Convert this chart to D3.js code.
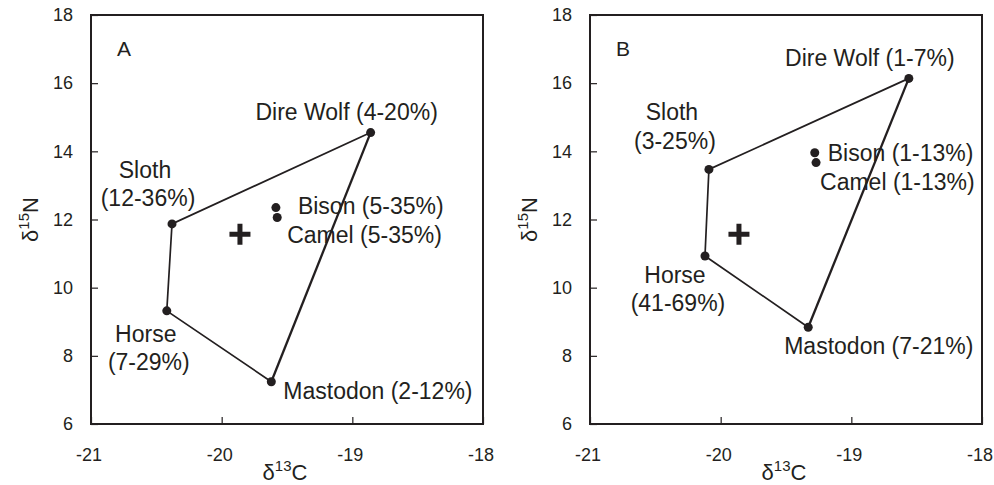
<!DOCTYPE html>
<html>
<head>
<meta charset="utf-8">
<script src="https://cdn.jsdelivr.net/npm/d3@7"></script>
<style>
  body { margin: 0; background: #fff; }
  text { font-family: "Liberation Sans", Arial, sans-serif; fill: #231f20; }
</style>
</head>
<body>
<div id="chart"></div>
<script>
// data
var species = ["Dire Wolf", "Sloth", "Horse", "Mastodon", "Bison", "Camel"];
var hullOrder = ["Dire Wolf", "Sloth", "Horse", "Mastodon"];

var rangesA = ["4-20%", "12-36%", "7-29%", "2-12%", "5-35%", "5-35%"];
var carbonA = [-18.86, -20.38, -20.42, -19.62, -19.585, -19.575];
var nitrogenA = [14.55, 11.87, 9.32, 7.24, 12.35, 12.06];

var rangesB = ["1-7%", "3-25%", "41-69%", "7-21%", "1-13%", "1-13%"];
var carbonB = [-18.56, -20.09, -20.12, -19.33, -19.28, -19.27];
var nitrogenB = [16.14, 13.47, 10.93, 8.84, 13.96, 13.67];

var mixtureA = [-19.86, 11.57];
var mixtureB = [-19.86, 11.57];

var xTicks = [-21, -20, -19, -18];
var yTicks = [6, 8, 10, 12, 14, 16, 18];

// label placement (pixel offsets from the point), per panel
var labelsA = {
  "Dire Wolf": {dx: -24, dy: -13, anchor: "middle", lines: 1},
  "Sloth":     {dx: -27, dy: -46, anchor: "middle", lines: 2},
  "Horse":     {dx: -21, dy: 31, anchor: "middle", lines: 2},
  "Mastodon":  {dx: 12, dy: 17, anchor: "start", lines: 1},
  "Bison":     {dx: 22, dy: 6, anchor: "start", lines: 1},
  "Camel":     {dx: 10, dy: 26, anchor: "start", lines: 1}
};
var labelsB = {
  "Dire Wolf": {dx: -39, dy: -12, anchor: "middle", lines: 1},
  "Sloth":     {dx: -37, dy: -49, anchor: "middle", lines: 2},
  "Horse":     {dx: -30, dy: 27, anchor: "middle", lines: 2},
  "Mastodon":  {dx: -24, dy: 27, anchor: "start", lines: 1},
  "Bison":     {dx: 13, dy: 8, anchor: "start", lines: 1},
  "Camel":     {dx: 4, dy: 27, anchor: "start", lines: 1}
};

var W = 994, H = 485;
var ink = "#231f20";

var svg = d3.select("#chart")
  .append("svg")
  .attr("width", W)
  .attr("height", H);

function plain(d) { return String(d); }

function drawPanel(left, letter, carbon, nitrogen, ranges, mixture, labels) {
  var top = 15, bottom = 424, right = left + 392;

  var x = d3.scaleLinear().domain([-21, -18]).range([left, right]);
  var y = d3.scaleLinear().domain([6, 18]).range([bottom, top]);

  var g = svg.append("g");

  var pts = species.map(function(s, i) {
    return {name: s, c: carbon[i], n: nitrogen[i], range: ranges[i]};
  });
  var byName = {};
  pts.forEach(function(p) { byName[p.name] = p; });

  // axes with inward ticks
  g.append("g")
    .attr("transform", "translate(0," + bottom + ")")
    .call(d3.axisBottom(x).tickValues(xTicks).tickSizeInner(-7).tickSizeOuter(0).tickPadding(24).tickFormat(plain))
    .call(function(a) {
      a.select(".domain").remove();
      a.selectAll("line").attr("stroke", ink).attr("stroke-width", 1.2);
      a.selectAll("text").attr("font-size", 18).attr("font-family", null).attr("dx", -2.5);
    });

  g.append("g")
    .attr("transform", "translate(" + left + ",0)")
    .call(d3.axisLeft(y).tickValues(yTicks).tickSizeInner(-7).tickSizeOuter(0).tickPadding(18).tickFormat(plain))
    .call(function(a) {
      a.select(".domain").remove();
      a.selectAll("line").attr("stroke", ink).attr("stroke-width", 1.2);
      a.selectAll("text").attr("font-size", 18).attr("font-family", null);
    });

  // frame
  g.append("rect")
    .attr("x", left).attr("y", top)
    .attr("width", right - left).attr("height", bottom - top)
    .attr("fill", "none")
    .attr("stroke", ink)
    .attr("stroke-width", 2);

  // mixing polygon
  var line = d3.line()
    .x(function(d) { return x(d.c); })
    .y(function(d) { return y(d.n); });

  var hull = hullOrder.map(function(s) { return byName[s]; });
  g.append("path")
    .datum(hull)
    .attr("d", line)
    .attr("fill", "none")
    .attr("stroke", ink)
    .attr("stroke-width", 1.7);
  g.append("path")
    .datum([hull[hull.length - 1], hull[0]])
    .attr("d", line)
    .attr("fill", "none")
    .attr("stroke", ink)
    .attr("stroke-width", 2.3);

  // source points
  g.selectAll("circle")
    .data(pts)
    .enter()
    .append("circle")
    .attr("cx", function(d) { return x(d.c); })
    .attr("cy", function(d) { return y(d.n); })
    .attr("r", 4.5)
    .attr("fill", ink);

  // consumer mean
  g.append("path")
    .attr("transform", "translate(" + x(mixture[0]) + "," + y(mixture[1]) + ")")
    .attr("d", "M-10.5,0H10.5M0,-10.5V10.5")
    .attr("stroke", ink)
    .attr("stroke-width", 5);

  // labels
  pts.forEach(function(p) {
    var L = labels[p.name];
    var t = g.append("text")
      .attr("font-size", 23)
      .attr("text-anchor", L.anchor)
      .attr("x", x(p.c) + L.dx)
      .attr("y", y(p.n) + L.dy);
    if (L.lines === 2) {
      t.append("tspan").attr("x", x(p.c) + L.dx).text(p.name);
      t.append("tspan").attr("x", x(p.c) + L.dx + 3).attr("dy", 28.5).text("(" + p.range + ")");
    } else {
      t.text(p.name + " (" + p.range + ")");
    }
  });

  // panel letter
  g.append("text")
    .attr("x", left + 26)
    .attr("y", 56)
    .attr("font-size", 21)
    .text(letter);

  // axis titles
  var xt = g.append("text")
    .attr("x", (left + right) / 2 - 2)
    .attr("y", 480)
    .attr("text-anchor", "middle")
    .attr("font-size", 22);
  xt.append("tspan").text("\u03b4");
  xt.append("tspan").attr("font-size", 15).attr("dy", -9).text("13");
  xt.append("tspan").attr("dy", 9).text("C");

  var yt = g.append("text")
    .attr("transform", "translate(" + (left - 53) + "," + ((top + bottom) / 2) + ") rotate(-90)")
    .attr("text-anchor", "middle")
    .attr("font-size", 22);
  yt.append("tspan").text("\u03b4");
  yt.append("tspan").attr("font-size", 15).attr("dy", -9).text("15");
  yt.append("tspan").attr("dy", 9).text("N");
}

drawPanel(91, "A", carbonA, nitrogenA, rangesA, mixtureA, labelsA);
drawPanel(590, "B", carbonB, nitrogenB, rangesB, mixtureB, labelsB);
</script>
</body>
</html>
